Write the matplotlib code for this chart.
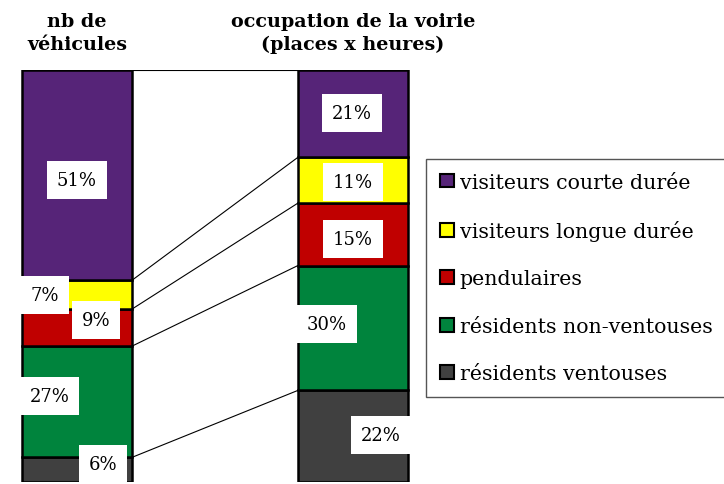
import numpy as np
import matplotlib
matplotlib.use("Agg")
from matplotlib import pyplot as plt
from matplotlib.patches import Patch, Rectangle

plt.rcParams['font.family'] = ['DejaVu Serif']

# data (bottom -> top)
categories = ['résidents ventouses', 'résidents non-ventouses', 'pendulaires',
              'visiteurs longue durée', 'visiteurs courte durée']
colors = ['#404040', '#00843D', '#C00000', '#FFFF00', '#562478']
bar_titles = ['nb de\nvéhicules', 'occupation de la voirie\n(places x heures)']
vehicules = [6, 27, 9, 7, 51]
occupation = [22, 30, 15, 11, 21]

# label positions (x, y in axes data units), same order as data
lab_vehicules = [(0.094, 4.4), (-0.10, 20.9), (0.069, 39.3), (-0.116, 45.4), (0.0, 73.3)]
lab_occupation = [(1.10, 11.4), (0.906, 38.3), (1.0, 59.0), (1.0, 72.8), (0.996, 89.6)]

fig = plt.figure(figsize=(7.24, 4.85), dpi=100)
ax = fig.add_axes([0, 2/485, 1, 412/485])
ax.set_xlim(-77/276, (724-77)/276)
ax.set_ylim(0, 100)
ax.axis('off')

width = 0.4
xs = [0, 1]
tops_all = []
for x, vals in zip(xs, [vehicules, occupation]):
    v = np.array(vals, dtype=float)
    v = v / v.sum() * 100
    bottoms = np.concatenate([[0], np.cumsum(v)[:-1]])
    ax.bar([x]*len(v), v, width=width, bottom=bottoms, color=colors,
           edgecolor='black', linewidth=1.8, zorder=2)
    tops_all.append(np.cumsum(v))

# connector lines between the two bars
for t0, t1 in zip(tops_all[0], tops_all[1]):
    ax.plot([width/2, 1-width/2], [t0, t1], color='black', lw=0.8, zorder=1)

for vals, labs in [(vehicules, lab_vehicules), (occupation, lab_occupation)]:
    for val, (lx, ly) in zip(vals, labs):
        ax.text(lx, ly, f'{val}%', ha='center', va='center', fontsize=13,
                bbox=dict(facecolor='white', edgecolor='none', pad=7), zorder=3)

for x, t in zip(xs, bar_titles):
    fig.text((77 + 276*x)/724, 1 - 33.5/485, t, ha='center', va='center',
             fontsize=13.8, fontweight='bold', linespacing=1.4)

# legend frame runs off the right edge in the original
fig.patches.append(Rectangle((426/724, 1 - 398/485), 310/724, 238/485,
                             transform=fig.transFigure, facecolor='white',
                             edgecolor='#555555', linewidth=1.0, zorder=0))
handles = [Patch(facecolor=c, edgecolor='black', linewidth=1.5) for c in colors][::-1]
leg = fig.legend(handles, categories[::-1], loc='center left',
                 bbox_to_anchor=(428/724, 1 - 279/485), fontsize=14.8,
                 frameon=False, borderpad=0.6, labelspacing=1.38,
                 handlelength=0.65, handleheight=0.65, handletextpad=0.3,
                 borderaxespad=0)

fig.savefig('out.png', dpi=100)
